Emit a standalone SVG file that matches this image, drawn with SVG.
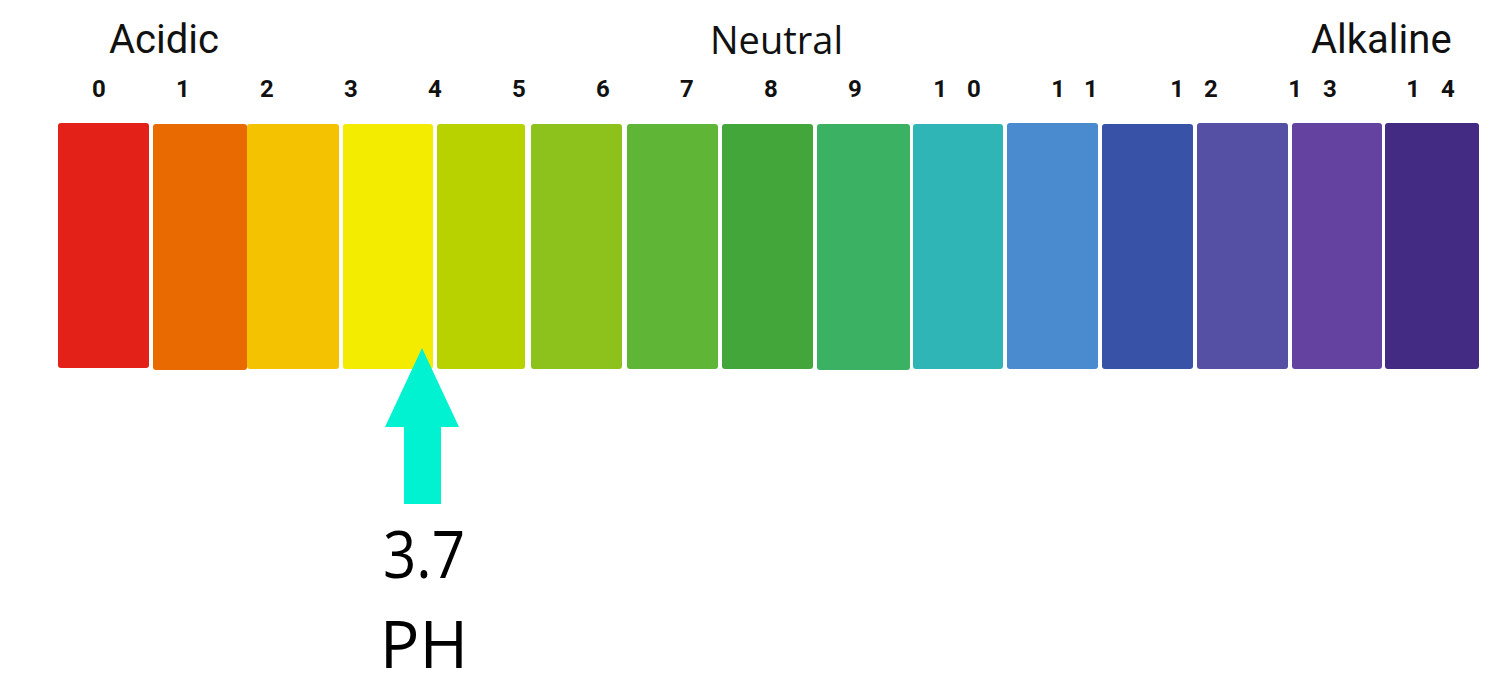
<svg xmlns="http://www.w3.org/2000/svg" width="1501" height="688" viewBox="0 0 1501 688">
<style>
.hdr{font-family:Roboto,"Liberation Sans",sans-serif;font-size:40px;fill:#111}
.hdr2{font-family:"Open Sans","Liberation Sans",sans-serif;font-size:38px;fill:#111}
.num{font-family:Roboto,"Liberation Sans",sans-serif;font-size:24px;font-weight:bold;fill:#111;text-anchor:middle}
.big{font-family:"Open Sans","Liberation Sans",sans-serif;font-size:66px;fill:#000}
.bar rect{rx:3px}
</style>
<rect width="1501" height="688" fill="#fff"/>
<g id="headers">
<text class="hdr" x="109" y="53">Acidic</text>
<text class="hdr2" x="710" y="54">Neutral</text>
<text class="hdr" x="1311" y="53">Alkaline</text>
</g>
<g id="scale-numbers">
<text class="num" x="99" y="97">0</text>
<text class="num" x="183" y="97">1</text>
<text class="num" x="267" y="97">2</text>
<text class="num" x="351" y="97">3</text>
<text class="num" x="435" y="97">4</text>
<text class="num" x="519" y="97">5</text>
<text class="num" x="603" y="97">6</text>
<text class="num" x="687" y="97">7</text>
<text class="num" x="771" y="97">8</text>
<text class="num" x="855" y="97">9</text>
<text class="num" y="97"><tspan x="943">1</tspan> <tspan x="974">0</tspan></text>
<text class="num" y="97"><tspan x="1061">1</tspan> <tspan x="1091">1</tspan></text>
<text class="num" y="97"><tspan x="1180">1</tspan> <tspan x="1211">2</tspan></text>
<text class="num" y="97"><tspan x="1298">1</tspan> <tspan x="1330">3</tspan></text>
<text class="num" y="97"><tspan x="1416">1</tspan> <tspan x="1448">4</tspan></text>
</g>
<g id="bars" class="bar">
<rect id="ph0" x="58" y="123" width="91" height="245" fill="#E32119"/>
<rect id="ph1" x="153" y="124" width="94" height="246" fill="#EA6A02"/>
<rect id="ph2" x="247" y="124" width="92" height="245" fill="#F5C200"/>
<rect id="ph3" x="343" y="124" width="90" height="245" fill="#F3EC00"/>
<rect id="ph4" x="437" y="124" width="88" height="245" fill="#B8D200"/>
<rect id="ph5" x="531" y="124" width="91" height="245" fill="#8CC21B"/>
<rect id="ph6" x="627" y="124" width="91" height="245" fill="#5EB536"/>
<rect id="ph7" x="722" y="124" width="91" height="245" fill="#42A63A"/>
<rect id="ph8" x="817" y="124" width="93" height="246" fill="#3BB163"/>
<rect id="ph9" x="913" y="124" width="90" height="245" fill="#2FB5B5"/>
<rect id="ph10" x="1007" y="123" width="91" height="246" fill="#4A8BCF"/>
<rect id="ph11" x="1102" y="124" width="91" height="245" fill="#3752A7"/>
<rect id="ph12" x="1197" y="123" width="91" height="246" fill="#5650A4"/>
<rect id="ph13" x="1292" y="123" width="90" height="246" fill="#6443A0"/>
<rect id="ph14" x="1385" y="123" width="94" height="246" fill="#432A83"/>
</g>
<g id="connectors">
<polygon id="arrow" points="422,348 459,427 441,427 441,504 404,504 404,427 385,427" fill="#00F2D0"/>
</g>
<g id="reading">
<text class="big" x="424" y="578" text-anchor="middle" textLength="82" lengthAdjust="spacingAndGlyphs">3.7</text>
<text class="big" x="424" y="668" text-anchor="middle">PH</text>
</g>
</svg>
